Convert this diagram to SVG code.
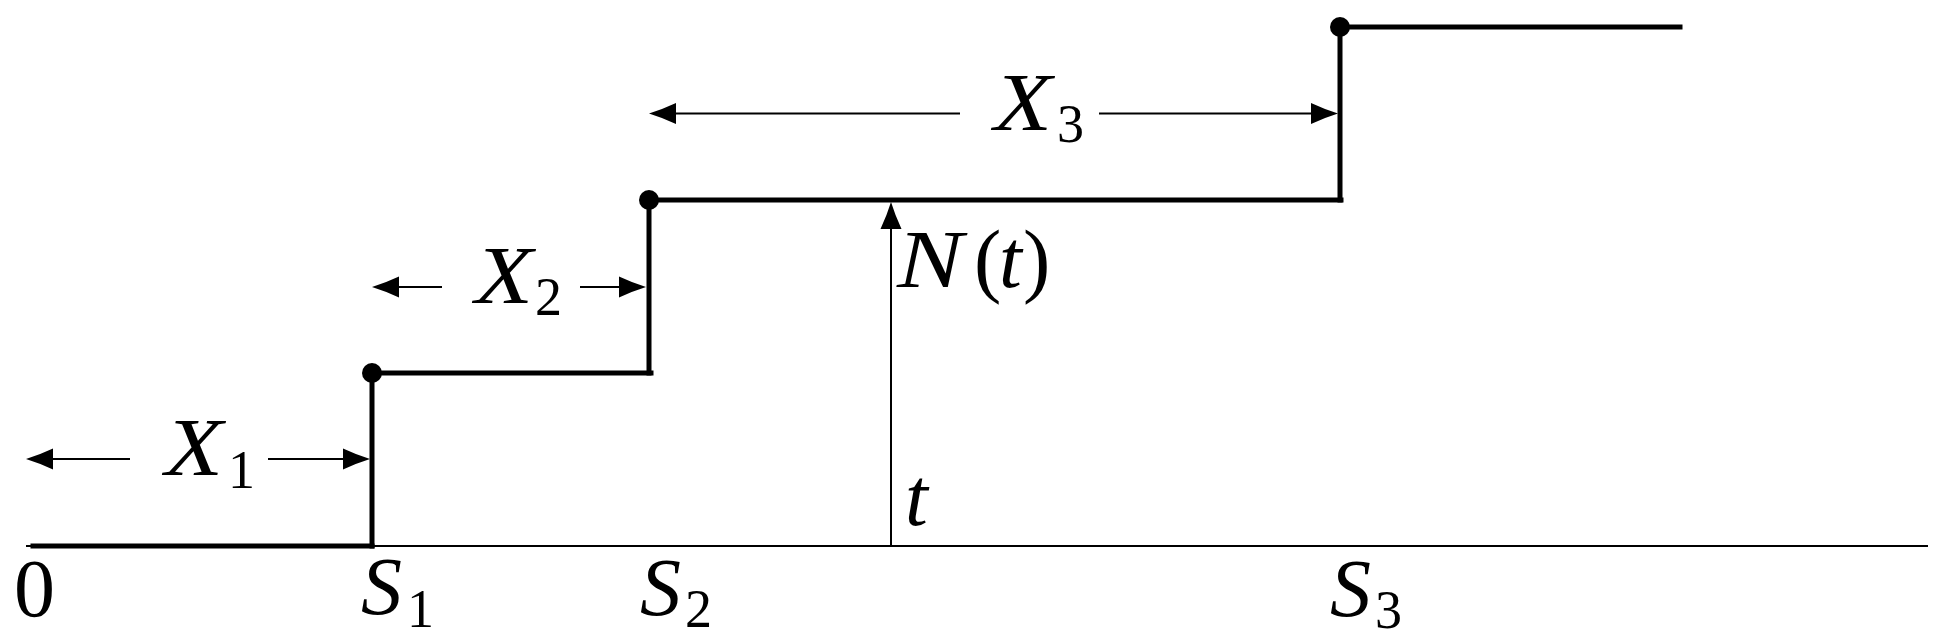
<svg xmlns="http://www.w3.org/2000/svg" xmlns:xlink="http://www.w3.org/1999/xlink" width="1935" height="642" viewBox="0 0 1935 642">
<style>
.thin{stroke:#000;stroke-width:2;fill:none}
.thick{stroke:#000;stroke-width:5;fill:none;stroke-linecap:square}
.lbl{font-family:"Liberation Serif","Times New Roman",serif;font-size:82px;fill:#000}
.it{font-style:italic}
.sub{font-family:"Liberation Serif","Times New Roman",serif;font-size:54px;fill:#000}
</style>
<defs>
<path id="ah" d="M0,0 Q-13,-4 -27,-10.5 L-27,10.5 Q-13,4 0,0 Z" fill="#000"/>
</defs>
<rect width="1935" height="642" fill="#fff"/>
<g id="axis">
<line class="thin" x1="26" y1="546" x2="1928" y2="546"/>
</g>
<g id="steps">
<line class="thick" x1="33" y1="546" x2="372" y2="546"/>
<line class="thick" x1="372" y1="546" x2="372" y2="373"/>
<line class="thick" x1="372" y1="373" x2="651" y2="373"/>
<line class="thick" x1="649" y1="373" x2="649" y2="200"/>
<line class="thick" x1="649" y1="200" x2="1341" y2="200"/>
<line class="thick" x1="1340" y1="200" x2="1340" y2="27"/>
<line class="thick" x1="1340" y1="27" x2="1680" y2="27"/>
</g>
<g id="dots" fill="#000">
<circle cx="372" cy="373" r="10"/>
<circle cx="649" cy="200" r="10"/>
<circle cx="1340" cy="27" r="10"/>
</g>
<g id="connectors">
<line class="thin" x1="40" y1="459" x2="130" y2="459"/>
<use xlink:href="#ah" transform="translate(26,459) rotate(180)"/>
<line class="thin" x1="268" y1="459" x2="360" y2="459"/>
<use xlink:href="#ah" transform="translate(370,459)"/>
<line class="thin" x1="385" y1="287" x2="442" y2="287"/>
<use xlink:href="#ah" transform="translate(372,287) rotate(180)"/>
<line class="thin" x1="580" y1="287" x2="636" y2="287"/>
<use xlink:href="#ah" transform="translate(646,287)"/>
<line class="thin" x1="660" y1="113.5" x2="960" y2="113.5"/>
<use xlink:href="#ah" transform="translate(649,113.5) rotate(180)"/>
<line class="thin" x1="1099" y1="113.5" x2="1328" y2="113.5"/>
<use xlink:href="#ah" transform="translate(1338,113.5)"/>
<line class="thin" x1="891" y1="546" x2="891" y2="215"/>
<use xlink:href="#ah" transform="translate(891,202) rotate(-90)"/>
</g>
<g id="label-X1"><text class="lbl it" x="165" y="475" textLength="58" lengthAdjust="spacingAndGlyphs">X</text><text class="sub" x="228" y="488">1</text></g>
<g id="label-X2"><text class="lbl it" x="475" y="303" textLength="58" lengthAdjust="spacingAndGlyphs">X</text><text class="sub" x="535" y="315">2</text></g>
<g id="label-X3"><text class="lbl it" x="994" y="130" textLength="58" lengthAdjust="spacingAndGlyphs">X</text><text class="sub" x="1057" y="142">3</text></g>
<g id="label-Nt"><text class="lbl it" x="897" y="287" textLength="66" lengthAdjust="spacingAndGlyphs">N</text><text class="lbl" x="974" y="287">(</text><text class="lbl it" x="999" y="287">t</text><text class="lbl" x="1023" y="287">)</text></g>
<g id="label-t"><text class="lbl it" x="905" y="525">t</text></g>
<g id="label-0"><text class="lbl" x="14" y="616">0</text></g>
<g id="label-S1"><text class="lbl it" x="361" y="614">S</text><text class="sub" x="407" y="627">1</text></g>
<g id="label-S2"><text class="lbl it" x="640" y="615">S</text><text class="sub" x="685" y="627">2</text></g>
<g id="label-S3"><text class="lbl it" x="1330" y="616">S</text><text class="sub" x="1375" y="628">3</text></g>
</svg>
